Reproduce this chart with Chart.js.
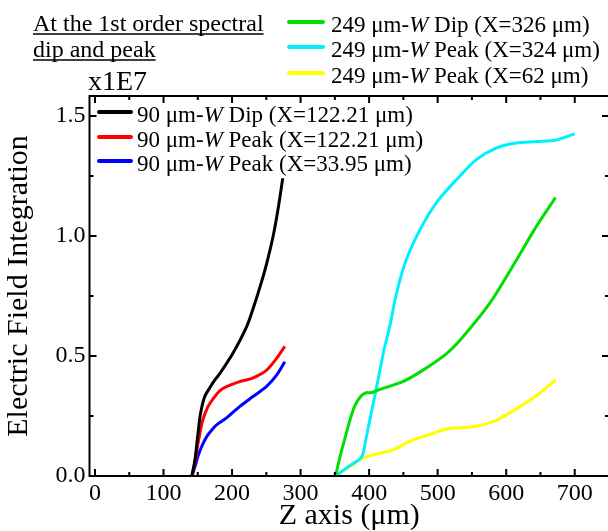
<!DOCTYPE html>
<html><head><meta charset="utf-8">
<script src="https://cdn.jsdelivr.net/npm/chart.js@4"></script>
<style>html,body{margin:0;padding:0;overflow:hidden;background:#fff}#wrap{width:612px;height:531px}</style>
</head><body><div id="wrap"><canvas id="c" width="612" height="531"></canvas></div>
<script>
// ---- data (y values in units of 1E7) ----
const xTickValues = [0, 100, 200, 300, 400, 500, 600, 700];
const yTickValues = [0, 0.5, 1.0, 1.5];
const yTickLabels = ["0.0", "0.5", "1.0", "1.5"];

const dip90_x = [141.4, 146, 150, 154, 160, 168, 175, 183, 201, 221, 231, 241, 250, 260, 267, 274];
const dip90_y = [0, 0.07, 0.17, 0.26, 0.33, 0.37, 0.40, 0.43, 0.51, 0.62, 0.70, 0.79, 0.88, 1.0, 1.11, 1.24];

const peak90a_x = [141.4, 146, 150, 157, 165, 172, 182, 192, 211, 230, 250, 265, 277];
const peak90a_y = [0, 0.06, 0.13, 0.23, 0.29, 0.32, 0.355, 0.372, 0.393, 0.408, 0.44, 0.49, 0.54];

const peak90b_x = [141.4, 146, 150, 156, 163, 170, 177, 192, 211, 230, 250, 265, 277];
const peak90b_y = [0, 0.04, 0.08, 0.125, 0.164, 0.19, 0.212, 0.242, 0.289, 0.33, 0.372, 0.42, 0.476];

const dip249_x = [351, 355, 360, 366, 372, 378, 384, 390, 396, 403, 410, 420, 449, 478, 513, 537, 576, 615, 644, 672];
const dip249_y = [0, 0.05, 0.108, 0.17, 0.233, 0.285, 0.317, 0.338, 0.347, 0.347, 0.355, 0.365, 0.393, 0.44, 0.51, 0.58, 0.72, 0.9, 1.04, 1.16];

const peak249a_x = [351, 370, 389, 395, 401, 408, 415, 422, 430, 440, 454, 474, 498, 527, 556, 586, 615, 644, 673, 700];
const peak249a_y = [0, 0.04, 0.079, 0.15, 0.233, 0.33, 0.429, 0.53, 0.622, 0.762, 0.9, 1.025, 1.138, 1.233, 1.317, 1.367, 1.387, 1.393, 1.4, 1.425];

const peak249b_x = [351, 372, 391, 415, 435, 449, 464, 479, 513, 551, 586, 620, 649, 672];
const peak249b_y = [0, 0.039, 0.074, 0.095, 0.108, 0.129, 0.15, 0.164, 0.196, 0.205, 0.233, 0.289, 0.345, 0.4];

const seriesLabels = [
  "90 μm-W Dip (X=122.21 μm)",
  "90 μm-W Peak (X=122.21 μm)",
  "90 μm-W Peak (X=33.95 μm)",
  "249 μm-W Dip (X=326 μm)",
  "249 μm-W Peak (X=324 μm)",
  "249 μm-W Peak (X=62 μm)"
];
const seriesColors = ["#000000", "#ff0000", "#0000ff", "#00e000", "#00f0ff", "#ffff00"];
const seriesX = [dip90_x, peak90a_x, peak90b_x, dip249_x, peak249a_x, peak249b_x];
const seriesY = [dip90_y, peak90a_y, peak90b_y, dip249_y, peak249a_y, peak249b_y];

const titleLines = ["At the 1st order spectral", "dip and peak"];
const multiplierText = "x1E7";
const xTitle = "Z axis (μm)";
const yTitle = "Electric Field Integration";

const SERIF = "'Liberation Serif', 'Times New Roman', serif";

const datasets = seriesLabels.map((lab, i) => ({
  label: lab,
  data: seriesX[i].map((x, j) => ({x: x, y: seriesY[i][j]})),
  borderColor: seriesColors[i],
  backgroundColor: seriesColors[i],
  borderWidth: 3,
  pointRadius: 0,
  showLine: true,
  fill: false,
  tension: 0.3,
  cubicInterpolationMode: 'default'
}));

function drawLegendEntry(ctx, x, y, color, label, lineLen, gap, fontSize) {
  ctx.save();
  ctx.strokeStyle = color;
  ctx.lineWidth = 4;
  ctx.lineCap = 'round';
  ctx.beginPath();
  ctx.moveTo(x, y);
  ctx.lineTo(x + lineLen, y);
  ctx.stroke();
  const idx = label.indexOf('-W');
  const pre = label.slice(0, idx + 1);
  const post = label.slice(idx + 2);
  let tx = x + lineLen + gap;
  const by = y + 10;
  ctx.fillStyle = '#000';
  ctx.textBaseline = 'alphabetic';
  ctx.textAlign = 'left';
  ctx.font = fontSize + 'px ' + SERIF;
  ctx.fillText(pre, tx, by); tx += ctx.measureText(pre).width;
  ctx.font = 'italic ' + fontSize + 'px ' + SERIF;
  ctx.fillText('W', tx, by); tx += ctx.measureText('W').width;
  ctx.font = fontSize + 'px ' + SERIF;
  ctx.fillText(post, tx, by);
  ctx.restore();
}

const decor = {
  id: 'decor',
  afterDraw(chart) {
    const ctx = chart.ctx;
    const a = chart.chartArea;
    const xs = chart.scales.x, ys = chart.scales.y;
    ctx.save();
    ctx.strokeStyle = '#000';
    ctx.lineWidth = 2;
    ctx.beginPath();
    ctx.moveTo(a.left, a.top); ctx.lineTo(a.right, a.top);
    ctx.lineTo(a.right, a.bottom); ctx.lineTo(a.left, a.bottom);
    ctx.closePath();
    ctx.stroke();
    for (let v = 0; v <= 700; v += 50) {
      const px = xs.getPixelForValue(v);
      const len = (v % 100 === 0) ? 7 : 4;
      ctx.beginPath();
      ctx.moveTo(px, a.bottom); ctx.lineTo(px, a.bottom - len);
      ctx.moveTo(px, a.top); ctx.lineTo(px, a.top + len);
      ctx.stroke();
    }
    for (let k = 0; k <= 6; k++) {
      const v = k * 0.25;
      const py = ys.getPixelForValue(v);
      const len = (k % 2 === 0) ? 7 : 4;
      ctx.beginPath();
      ctx.moveTo(a.left, py); ctx.lineTo(a.left + len, py);
      ctx.moveTo(a.right, py); ctx.lineTo(a.right - len, py);
      ctx.stroke();
    }
    ctx.fillStyle = '#000';
    ctx.font = '24px ' + SERIF;
    ctx.textAlign = 'left';
    ctx.textBaseline = 'alphabetic';
    const tb = [31, 57];
    titleLines.forEach((t, i) => {
      ctx.fillText(t, 33, tb[i]);
      const w = ctx.measureText(t).width;
      ctx.lineWidth = 1.5;
      ctx.beginPath();
      ctx.moveTo(33, tb[i] + 3); ctx.lineTo(33 + w, tb[i] + 3);
      ctx.stroke();
    });
    ctx.font = '28px ' + SERIF;
    ctx.fillText(multiplierText, 88, 90);
    const topRows = [22, 47, 73];
    for (let i = 0; i < 3; i++) {
      drawLegendEntry(ctx, 289, topRows[i], seriesColors[3 + i], seriesLabels[3 + i], 34, 8, 23);
    }
    const inRows = [112, 137, 161];
    for (let i = 0; i < 3; i++) {
      drawLegendEntry(ctx, 99, inRows[i], seriesColors[i], seriesLabels[i], 32, 6, 23);
    }
    ctx.restore();
  }
};

new Chart(document.getElementById('c'), {
  type: 'scatter',
  data: { datasets: datasets },
  plugins: [decor],
  options: {
    responsive: false,
    animation: false,
    devicePixelRatio: 1,
    layout: { padding: { left: 0, right: 3, top: 96, bottom: 0 } },
    plugins: { legend: { display: false }, tooltip: { enabled: false } },
    scales: {
      x: {
        type: 'linear', min: -8, max: 750,
        afterBuildTicks: (s) => { s.ticks = xTickValues.map(v => ({value: v})); },
        afterFit: (s) => { s.height = 55; },
        grid: { display: false, drawTicks: false },
        border: { display: false },
        ticks: { color: '#000', font: { family: SERIF, size: 24 }, padding: 3, maxRotation: 0, autoSkip: false,
                 callback: (v) => String(v) },
        title: { display: true, text: xTitle, color: '#000', font: { family: SERIF, size: 30, lineHeight: 1.0 }, padding: { top: 0, bottom: 0 } }
      },
      y: {
        type: 'linear', min: 0, max: 1.583,
        afterBuildTicks: (s) => { s.ticks = yTickValues.map(v => ({value: v})); },
        afterFit: (s) => { s.width = 89.5; },
        grid: { display: false, drawTicks: false },
        border: { display: false },
        ticks: { color: '#000', font: { family: SERIF, size: 24 }, padding: 4,
                 callback: (v) => yTickLabels[yTickValues.indexOf(v)] },
        title: { display: true, text: yTitle, color: '#000', font: { family: SERIF, size: 30, lineHeight: 1.0 }, padding: { top: 4, bottom: 0 } }
      }
    }
  }
});
</script></body></html>
